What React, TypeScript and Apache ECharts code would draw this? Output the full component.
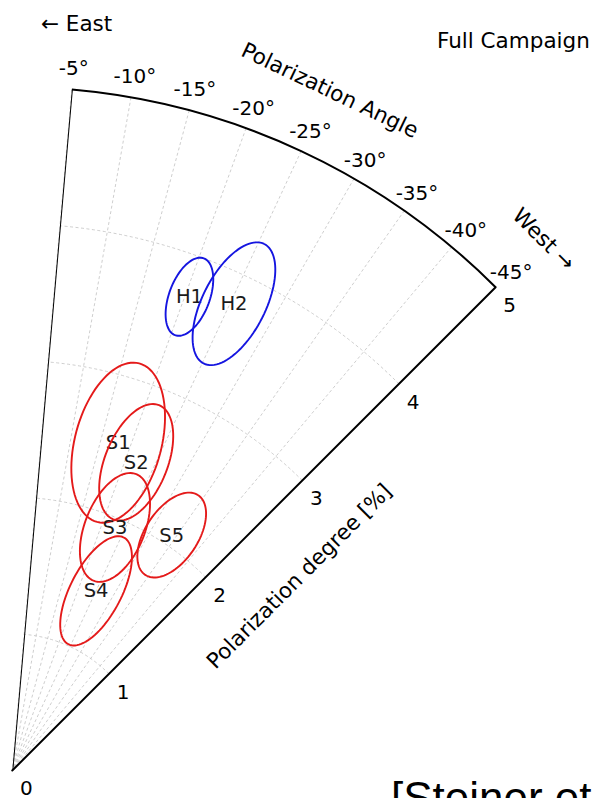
import React, { useEffect, useRef } from 'react';
import * as echarts from 'echarts';

// Axis ticks
const angleTicks = [-5, -10, -15, -20, -25, -30, -35, -40, -45];
const degreeTicks = [0, 1, 2, 3, 4, 5];

// Sources (error ellipses)
const sourceNames = ['H1', 'H2', 'S1', 'S2', 'S3', 'S4', 'S5'];
const sourceGroup = ['H', 'H', 'S', 'S', 'S', 'S', 'S'];
const sourceDegree = [3.70, 3.78, 2.52, 2.43, 1.93, 1.45, 2.08];
const sourceAngle = [-20.5, -25.4, -17.9, -21.9, -22.9, -25.0, -34.1];
const degreeErr = [0.30, 0.49, 0.60, 0.45, 0.42, 0.44, 0.35];
const angleErr = [2.3, 3.5, 7.2, 5.4, 6.5, 7.4, 5.3];
const tiltOffset = [0, 1.5, -3, 0, -1, 2.5, -0.5];

const groupColor: Record<string, string> = { H: '#1515e0', S: '#e41a1a' };
const FONT = 'DejaVu Sans';

export default function App() {
  const ref = useRef<HTMLDivElement>(null);
  useEffect(() => {
    if (!ref.current) return;
    const chart = echarts.init(ref.current, undefined, { renderer: 'svg' });

    const ellipseData = sourceNames.map((_, i) => [
      sourceDegree[i], sourceAngle[i], degreeErr[i], angleErr[i], tiltOffset[i],
    ]);

    const option: any = {
      animation: false,
      polar: { center: [12.3, 770.5], radius: 683.5 },
      angleAxis: {
        type: 'value',
        min: -45,
        max: -5,
        interval: 5,
        startAngle: 45,
        endAngle: 85,
        clockwise: false,
        axisLine: { show: true, lineStyle: { color: '#000', width: 2 } },
        axisTick: { show: false },
        axisLabel: { show: false },
        splitLine: { show: true, lineStyle: { color: '#c2c2c2', width: 0.8, type: [3, 2.5] } },
      },
      radiusAxis: {
        type: 'value',
        min: 0,
        max: 5,
        interval: 1,
        axisLine: { show: true, lineStyle: { color: '#000', width: 2 } },
        axisTick: { show: false },
        axisLabel: { show: false },
        splitLine: { show: true, lineStyle: { color: '#c2c2c2', width: 0.8, type: [3, 2.5] } },
      },
      series: [
        {
          type: 'line',
          coordinateSystem: 'polar',
          data: [[0, angleTicks[0]], [degreeTicks[degreeTicks.length - 1], angleTicks[0]]],
          symbol: 'none',
          silent: true,
          lineStyle: { color: '#000', width: 2 },
        },
        {
          type: 'custom',
          coordinateSystem: 'polar',
          data: angleTicks.map((a) => [degreeTicks[degreeTicks.length - 1], a]),
          silent: true,
          renderItem: (params: any, api: any) => {
            const r = api.value(0), a = api.value(1);
            const p = api.coord([r, a]);
            const o = api.coord([0, a]);
            const len = Math.hypot(p[0] - o[0], p[1] - o[1]);
            const ux = (p[0] - o[0]) / len, uy = (p[1] - o[1]) / len;
            return {
              type: 'text',
              x: p[0] + ux * 22,
              y: p[1] + uy * 22,
              style: {
                text: `${a}°`,
                fontFamily: FONT,
                fontSize: 20,
                fill: '#000',
                align: 'center',
                verticalAlign: 'middle',
              },
            };
          },
        },
        {
          type: 'custom',
          coordinateSystem: 'polar',
          data: degreeTicks.map((r) => [r, angleTicks[angleTicks.length - 1]]),
          silent: true,
          renderItem: (params: any, api: any) => {
            const r = api.value(0), a = api.value(1);
            const p = api.coord([r, a]);
            const o = api.coord([0, a]);
            const e = api.coord([5, a]);
            const len = Math.hypot(e[0] - o[0], e[1] - o[1]);
            const ux = (e[0] - o[0]) / len, uy = (e[1] - o[1]) / len;
            // outward normal (to the lower right)
            const nx = -uy, ny = ux;
            return {
              type: 'text',
              x: p[0] + nx * 22.5 - ux * 2.6,
              y: p[1] + ny * 22.5 - uy * 2.6,
              style: {
                text: String(r),
                fontFamily: FONT,
                fontSize: 20,
                fill: '#000',
                align: 'center',
                verticalAlign: 'middle',
              },
            };
          },
        },
        {
          type: 'custom',
          coordinateSystem: 'polar',
          data: ellipseData,
          silent: true,
          renderItem: (params: any, api: any) => {
            const i = params.dataIndex;
            const r = api.value(0), a = api.value(1);
            const dr = api.value(2), da = api.value(3), tilt = api.value(4);
            const c = api.coord([r, a]);
            const o = api.coord([0, a]);
            const rp = Math.hypot(c[0] - o[0], c[1] - o[1]);
            const ux0 = (c[0] - o[0]) / rp, uy0 = (c[1] - o[1]) / rp;
            const t = (tilt * Math.PI) / 180;
            const ux = ux0 * Math.cos(t) - uy0 * Math.sin(t);
            const uy = ux0 * Math.sin(t) + uy0 * Math.cos(t);
            const vx = -uy, vy = ux;
            const outer = api.coord([r + dr, a]);
            const A = Math.hypot(outer[0] - c[0], outer[1] - c[1]);
            const B = (rp * da * Math.PI) / 180;
            const pts: number[][] = [];
            for (let k = 0; k <= 96; k++) {
              const th = (k / 96) * Math.PI * 2;
              const ca = Math.cos(th) * A, sb = Math.sin(th) * B;
              pts.push([c[0] + ca * ux + sb * vx, c[1] + ca * uy + sb * vy]);
            }
            const color = groupColor[sourceGroup[i]];
            return {
              type: 'group',
              children: [
                {
                  type: 'polyline',
                  shape: { points: pts },
                  style: { fill: 'none', stroke: color, lineWidth: 1.9 },
                },
                {
                  type: 'text',
                  x: c[0],
                  y: c[1],
                  style: {
                    text: sourceNames[i],
                    fontFamily: FONT,
                    fontSize: 19.5,
                    fill: '#1a1a1a',
                    align: 'center',
                    verticalAlign: 'middle',
                  },
                },
              ],
            };
          },
        },
      ],
      graphic: [
        {
          type: 'text', x: 41, y: 23,
          style: { text: '← East', fontFamily: FONT, fontSize: 21.5, fill: '#000', align: 'left', verticalAlign: 'middle' },
        },
        {
          type: 'text', x: 437, y: 40,
          style: { text: 'Full Campaign', fontFamily: FONT, fontSize: 21.5, fill: '#000', align: 'left', verticalAlign: 'middle' },
        },
        {
          type: 'text', x: 330, y: 90, rotation: (-25.5 * Math.PI) / 180,
          style: { text: 'Polarization Angle', fontFamily: FONT, fontSize: 21.5, fill: '#000', align: 'center', verticalAlign: 'middle' },
        },
        {
          type: 'text', x: 544, y: 239, rotation: (-45 * Math.PI) / 180,
          style: { text: 'West →', fontFamily: FONT, fontSize: 21.5, fill: '#000', align: 'center', verticalAlign: 'middle' },
        },
        {
          type: 'text', x: 299, y: 576, rotation: (45 * Math.PI) / 180,
          style: { text: 'Polarization degree [%]', fontFamily: FONT, fontSize: 21.5, fill: '#000', align: 'center', verticalAlign: 'middle' },
        },
        {
          type: 'text', x: 391, y: 797,
          style: { text: '[Steiner et al.]', fontFamily: 'Liberation Sans', fontSize: 44, fill: '#000', align: 'left', verticalAlign: 'middle' },
        },
      ],
    };
    chart.setOption(option);
    return () => chart.dispose();
  }, []);
  return (
    <div
      ref={ref}
      style={{ position: 'absolute', left: 0, top: 0, width: 599, height: 798, background: '#fff' }}
    />
  );
}
